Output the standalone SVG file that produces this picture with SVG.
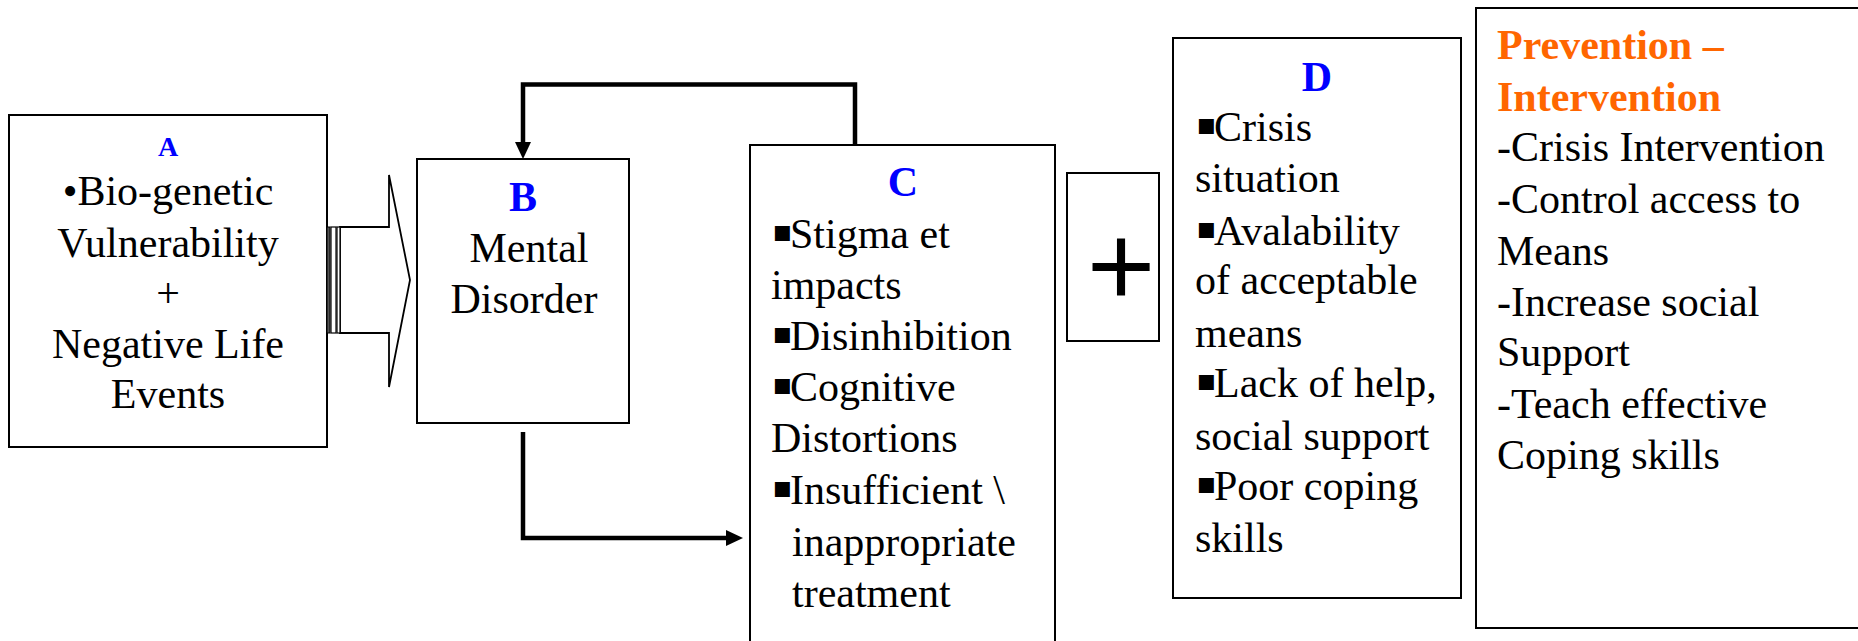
<svg xmlns="http://www.w3.org/2000/svg" width="1858" height="641" viewBox="0 0 1858 641">
<defs>
<style>
.box{fill:#fff;stroke:#000;stroke-width:2}
.t{font-family:"Liberation Serif","Times New Roman",serif;font-size:42px;fill:#000}
.ctr{text-anchor:middle}
.lbl{font-weight:bold;fill:#0000FF}
.org{font-weight:bold;fill:#FF6600}
.bul{font-family:"DejaVu Sans",sans-serif;font-size:30px}
.con{fill:none;stroke:#000;stroke-width:4.5;stroke-linejoin:miter}
.blk{fill:#fff;stroke:#000;stroke-width:1.8;stroke-linejoin:miter}
</style>
<marker id="ah" viewBox="0 0 17 16" refX="0" refY="8" markerWidth="17" markerHeight="16" markerUnits="userSpaceOnUse" orient="auto">
<path d="M0,0 L17,8 L0,16 z" fill="#000"/>
</marker>
</defs>
<rect width="1858" height="641" fill="#fff"/>

<g id="nodeA">
<rect class="box" x="9" y="115" width="318" height="332"/>
<text class="t ctr lbl" x="168" y="156" style="font-size:28px">A</text>
<text class="t ctr" x="168" y="205">•Bio-genetic</text>
<text class="t ctr" x="168" y="257">Vulnerability</text>
<text class="t ctr" x="168" y="307">+</text>
<text class="t ctr" x="168" y="358">Negative Life</text>
<text class="t ctr" x="168" y="408">Events</text>
</g>

<g id="nodeB">
<rect class="box" x="417" y="159" width="212" height="264"/>
<text class="t ctr lbl" x="523" y="211">B</text>
<text class="t ctr" x="529" y="262">Mental</text>
<text class="t ctr" x="524" y="313">Disorder</text>
</g>

<g id="nodeC">
<rect class="box" x="750" y="145" width="305" height="520"/>
<text class="t ctr lbl" x="903" y="196">C</text>
<text class="t" x="772" y="248"><tspan class="bul" dy="-7">▪</tspan><tspan x="790" dy="7">Stigma et</tspan></text>
<text class="t" x="771" y="299">impacts</text>
<text class="t" x="772" y="350"><tspan class="bul" dy="-7">▪</tspan><tspan x="790" dy="7">Disinhibition</tspan></text>
<text class="t" x="772" y="401"><tspan class="bul" dy="-7">▪</tspan><tspan x="790" dy="7">Cognitive</tspan></text>
<text class="t" x="771" y="452">Distortions</text>
<text class="t" x="772" y="504"><tspan class="bul" dy="-7">▪</tspan><tspan x="790" dy="7">Insufficient \</tspan></text>
<text class="t" x="792" y="556">inappropriate</text>
<text class="t" x="792" y="607">treatment</text>
</g>

<g id="plus">
<rect class="box" x="1067" y="173" width="92" height="168"/>
<text x="1121" y="307" text-anchor="middle" style="font-family:'Liberation Serif','Times New Roman',serif;font-size:118px;fill:#000;stroke:#000;stroke-width:2.2">+</text>
</g>

<g id="nodeD">
<rect class="box" x="1173" y="38" width="288" height="560"/>
<text class="t ctr lbl" x="1317" y="91">D</text>
<text class="t" x="1196" y="141"><tspan class="bul" dy="-7">▪</tspan><tspan x="1214" dy="7">Crisis</tspan></text>
<text class="t" x="1195" y="192">situation</text>
<text class="t" x="1196" y="245"><tspan class="bul" dy="-7">▪</tspan><tspan x="1214" dy="7">Avalability</tspan></text>
<text class="t" x="1195" y="294">of acceptable</text>
<text class="t" x="1195" y="347">means</text>
<text class="t" x="1196" y="397"><tspan class="bul" dy="-7">▪</tspan><tspan x="1214" dy="7">Lack of help,</tspan></text>
<text class="t" x="1195" y="450">social support</text>
<text class="t" x="1196" y="500"><tspan class="bul" dy="-7">▪</tspan><tspan x="1214" dy="7">Poor coping</tspan></text>
<text class="t" x="1195" y="552">skills</text>
</g>

<g id="nodePrevention">
<rect class="box" x="1476" y="8" width="400" height="620"/>
<text class="t org" x="1497" y="59">Prevention –</text>
<text class="t org" x="1497" y="111">Intervention</text>
<text class="t" x="1497" y="161">-Crisis Intervention</text>
<text class="t" x="1497" y="213">-Control access to</text>
<text class="t" x="1497" y="265">Means</text>
<text class="t" x="1497" y="316">-Increase social</text>
<text class="t" x="1497" y="366">Support</text>
<text class="t" x="1497" y="418">-Teach effective</text>
<text class="t" x="1497" y="469">Coping skills</text>
</g>

<g id="connectors">
<g id="blockArrow">
<path class="blk" d="M340,227 H389 V175 L410,280 L389,387 V333 H340 Z"/>
<rect x="327" y="227" width="3" height="106" fill="#555" stroke="#000" stroke-width="1"/>
<rect x="331" y="227" width="5" height="106" fill="#fff" stroke="#000" stroke-width="1.2"/>
<rect x="337" y="227" width="3" height="106" fill="#fff" stroke="#000" stroke-width="1.2"/>
</g>
<path class="con" d="M855,145 V84.5 H523 V142" marker-end="url(#ah)"/>
<path class="con" d="M523,432 V538 H726" marker-end="url(#ah)"/>
</g>
</svg>
